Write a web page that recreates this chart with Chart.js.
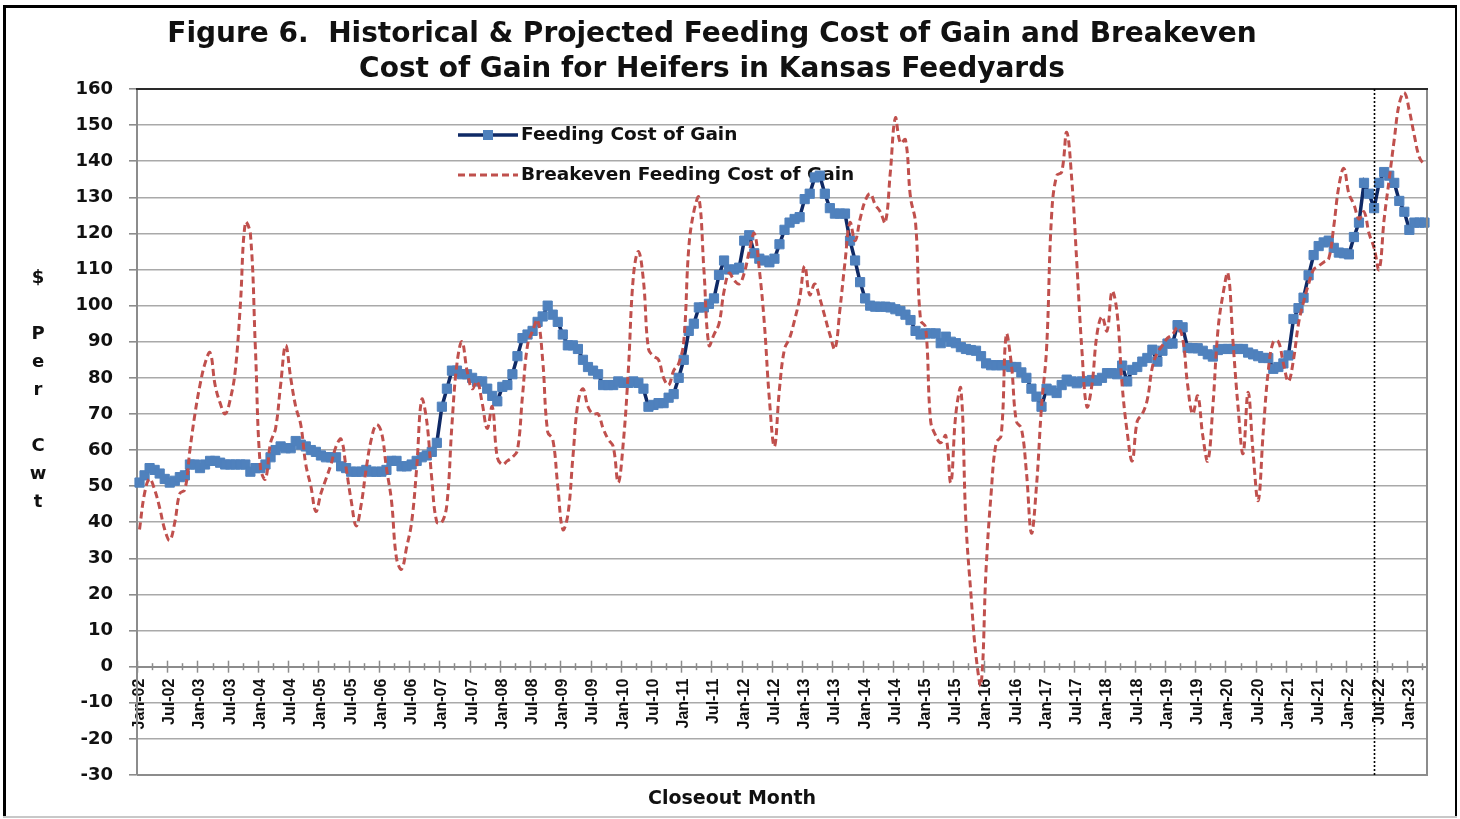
<!DOCTYPE html>
<html>
<head>
<meta charset="utf-8">
<script src="https://cdn.jsdelivr.net/npm/chart.js@4.4.0/dist/chart.umd.min.js"></script>
<style>
html, body { margin: 0; padding: 0; background: #fff; }
#wrap { position: relative; width: 1460px; height: 819px; }
</style>
</head>
<body>
<div id="wrap"><canvas id="chart" width="1460" height="819"></canvas></div>
<script>
// monthly closeouts, Jan-02 .. Apr-23
const firstYear = 2002;
const lastYear = 2023;
const lastMonth = 4;
const monthNames = ['Jan','Feb','Mar','Apr','May','Jun','Jul','Aug','Sep','Oct','Nov','Dec'];

const feedingCost = [
  51, 53, 55, 54.5, 53.5, 52, 51, 51.5, 52.5, 53, 56, 56,           // 2002
  55, 56, 57, 57, 56.5, 56, 56, 56, 56, 56, 54, 55,                 // 2003
  55, 56, 58, 60, 61, 60.5, 60.5, 62.5, 61.5, 61, 60, 59.5,         // 2004
  58.5, 58, 58, 58, 55.5, 55, 54, 54, 54, 54.5, 54, 54,             // 2005
  54, 54.5, 57, 57, 55.5, 55.5, 56, 57, 58, 58.5, 59.5, 62,         // 2006
  72, 77, 82, 82, 81, 81, 80, 79, 79, 77, 75, 73.5,                 // 2007
  77.5, 78, 81, 86, 91, 92, 93, 95.5, 97, 100, 97.5, 95.5,          // 2008
  92, 89, 89, 88, 85, 83, 82, 81, 78, 78, 78, 79,                   // 2009
  78.6, 78.6, 79, 78.6, 77, 72, 72.5, 73, 73, 74.5, 75.5, 80,       // 2010
  85, 93, 95, 99.5, 99.5, 100.5, 102, 108.5, 112.5, 110, 110, 110.5, // 2011
  118, 119.5, 114.5, 113, 112.5, 112, 113, 117, 121, 123, 124, 124.5, // 2012
  129.5, 131, 135.5, 136, 131, 127, 125.5, 125.5, 125.5, 118, 112.5, 106.5, // 2013
  102, 100, 99.7, 99.7, 99.7, 99.5, 99, 98.5, 97.5, 96, 93, 92,     // 2014
  92.3, 92.3, 92.3, 89.6, 91.4, 90, 89.6, 88.5, 88, 87.7, 87.5, 86, // 2015
  84, 83.5, 83.5, 83.5, 83.5, 83, 83, 81.5, 80, 77, 74.8, 72,       // 2016
  77, 76.5, 75.8, 78, 79.5, 79, 78.5, 79, 79, 79.4, 79.2, 80,       // 2017
  81.3, 81.3, 81, 83.4, 79, 82.2, 83, 84.5, 85.5, 87.8, 84.5, 87.5, // 2018
  89.5, 89.5, 94.6, 94, 88.3, 88.2, 88.2, 87.5, 86.5, 85.9, 87.7, 88, // 2019
  88, 88, 88, 88, 87, 86.5, 86, 85.5, 85.5, 82.5, 83, 84,           // 2020
  86.2, 96.3, 99.3, 102.2, 108.4, 114, 116.5, 117.5, 118, 116, 114.7, 114.5, // 2021
  114.2, 119, 123, 134, 131, 127, 134, 137, 136, 134, 129, 126,     // 2022
  121, 123, 123, 123                                                // 2023
];

const breakevenCost = [
  38, 48, 52, 49, 44, 38, 35, 40, 48, 49, 60, 70,          // 2002
  78, 84, 87, 78, 73, 70, 74, 82, 100, 123, 120, 88,       // 2003
  55, 52, 62, 66, 78, 89, 80, 72, 67, 56, 50, 43,          // 2004
  48, 52, 56, 61, 63, 55, 46, 39, 45, 55, 63, 67,          // 2005
  65, 55, 46, 30, 27, 33, 40, 55, 74, 68, 52, 40,          // 2006
  40, 45, 67, 84, 90, 82, 77, 79, 73, 66, 72, 58,          // 2007
  56, 57, 58, 60, 75, 89, 93, 96, 85, 65, 63, 50,          // 2008
  38, 42, 58, 73, 77, 72, 70, 70, 66, 63, 61, 51,          // 2009
  62, 82, 108, 115, 107, 88, 86, 85, 80, 78, 82, 84,       // 2010
  90, 116, 126, 130, 110, 89, 92, 95, 104, 109, 107, 106,  // 2011
  109, 115, 120, 110, 95, 74, 61, 77, 88, 91, 96, 102,     // 2012
  111, 103, 106, 102, 97, 92, 88, 99, 112, 123, 118, 124,  // 2013
  129, 131, 128, 126, 123, 137, 152, 145, 146, 130, 123, 96, // 2014
  94, 68, 64, 62, 64, 51, 70, 77, 40, 20, 3, -5,           // 2015
  27, 48, 62, 64, 92, 84, 68, 66, 54, 37, 50, 72,          // 2016
  88, 125, 136, 137, 148, 135, 112, 88, 72, 78, 92, 97,    // 2017
  93, 104, 98, 78, 65, 57, 68, 70, 74, 83, 87, 89,         // 2018
  91, 92, 94, 91, 78, 70, 75, 64, 57, 72, 93, 103,         // 2019
  109, 90, 72, 59, 76, 59, 46, 65, 82, 90, 90, 84,         // 2020
  79, 85, 95, 101, 106, 110, 111, 112, 113, 122, 133, 138, // 2021
  131, 128, 124, 126, 120, 116, 110, 124, 135, 146, 156, 159, // 2022
  154, 147, 141, 139                                       // 2023
];

const yTicks = { min: -30, max: 160, step: 10 };
const projectionStart = 'Jul-22';

const months = [];
for (let y = firstYear; y <= lastYear; y++) {
  const stop = (y === lastYear) ? lastMonth : 12;
  for (let m = 0; m < stop; m++) {
    months.push(monthNames[m] + '-' + String(y).slice(2));
  }
}

const BLUE_LINE = '#0f2a66';
const BLUE_MARK = '#4f81bd';
const RED = '#c0504d';
const GRID = '#a9a9a9';
const AXIS = '#8c8c8c';

const decor = {
  id: 'decor',
  beforeDraw(chart) {
    const ctx = chart.ctx;
    ctx.save();
    ctx.fillStyle = '#fff';
    ctx.fillRect(0, 0, chart.width, chart.height);
    ctx.restore();
  },
  beforeDatasetsDraw(chart) {
    // legend, sitting under the lines like the original
    const ctx = chart.ctx;
    ctx.save();
    const x0 = 458, x1 = 518;
    ctx.lineWidth = 3.5;
    ctx.strokeStyle = BLUE_LINE;
    ctx.beginPath(); ctx.moveTo(x0, 135); ctx.lineTo(x1, 135); ctx.stroke();
    ctx.fillStyle = BLUE_MARK;
    ctx.fillRect(483, 130, 10, 10);
    ctx.strokeStyle = RED;
    ctx.lineWidth = 3;
    ctx.setLineDash([7, 4]);
    ctx.beginPath(); ctx.moveTo(x0, 175); ctx.lineTo(x1, 175); ctx.stroke();
    ctx.setLineDash([]);
    ctx.fillStyle = '#111';
    ctx.font = 'bold 18.5px "DejaVu Sans"';
    ctx.textAlign = 'left';
    ctx.textBaseline = 'middle';
    ctx.fillText('Feeding Cost of Gain', 521, 135);
    ctx.fillText('Breakeven Feeding Cost of Gain', 521, 175);
    ctx.restore();
  },
  afterDraw(chart) {
    const ctx = chart.ctx;
    const {left, right, top, bottom} = chart.chartArea;
    const xs = chart.scales.x, ys = chart.scales.y;
    ctx.save();

    // tick marks across the zero line, every 3 months, long ones every 6
    const w = xs.getPixelForValue(1) - xs.getPixelForValue(0);
    const start = xs.getPixelForValue(0) - w / 2;
    const y0 = ys.getPixelForValue(0);
    ctx.strokeStyle = AXIS;
    ctx.lineWidth = 1.5;
    for (let k = 0; k <= months.length; k += 3) {
      const px = Math.round(start + k * w) + 0.5;
      const h = (k % 6 === 0) ? 6 : 3.5;
      ctx.beginPath(); ctx.moveTo(px, y0 - h); ctx.lineTo(px, y0 + h); ctx.stroke();
    }

    // plot frame
    ctx.lineWidth = 2;
    ctx.strokeStyle = AXIS;
    ctx.beginPath(); ctx.moveTo(left, bottom); ctx.lineTo(right, bottom); ctx.lineTo(right, top); ctx.stroke();
    ctx.strokeStyle = '#2a2a2a';
    ctx.beginPath(); ctx.moveTo(left - 1, top); ctx.lineTo(right + 1, top); ctx.stroke();

    // projection divider
    const iv = months.indexOf(projectionStart);
    const vx = Math.round((xs.getPixelForValue(iv - 1) + xs.getPixelForValue(iv)) / 2) - 2.5;
    ctx.strokeStyle = '#000';
    ctx.lineWidth = 1.6;
    ctx.setLineDash([2, 2]);
    ctx.beginPath(); ctx.moveTo(vx, top); ctx.lineTo(vx, bottom); ctx.stroke();
    ctx.setLineDash([]);

    // titles
    ctx.fillStyle = '#111';
    ctx.textAlign = 'center';
    ctx.textBaseline = 'middle';
    ctx.font = 'bold 28px "DejaVu Sans"';
    ctx.fillText('Figure 6.  Historical & Projected Feeding Cost of Gain and Breakeven', 712, 35);
    ctx.fillText('Cost of Gain for Heifers in Kansas Feedyards', 712, 70);

    ctx.font = 'bold 19px "DejaVu Sans"';
    ctx.fillText('Closeout Month', 732, 799);

    ctx.font = 'bold 18px "DejaVu Sans"';
    const yTitle = ['$', '', 'P', 'e', 'r', '', 'C', 'w', 't'];
    yTitle.forEach((ch, i) => { if (ch) ctx.fillText(ch, 38, 278 + i * 28.1); });

    // outer frame
    ctx.fillStyle = '#000';
    ctx.fillRect(3, 5, 3, 812);
    ctx.fillRect(3, 5, 1454, 3);
    ctx.fillRect(1455, 5, 2, 812);
    ctx.fillStyle = '#c8c8c8';
    ctx.fillRect(3, 816, 1454, 2);
    ctx.restore();
  }
};

new Chart(document.getElementById('chart'), {
  type: 'line',
  data: {
    labels: months,
    datasets: [
      {
        label: 'Feeding Cost of Gain',
        data: feedingCost,
        order: 2,
        borderColor: BLUE_LINE,
        borderWidth: 3.5,
        tension: 0,
        pointStyle: 'rect',
        pointRadius: 6.5,
        pointBackgroundColor: BLUE_MARK,
        pointBorderColor: BLUE_MARK,
        pointBorderWidth: 1
      },
      {
        label: 'Breakeven Feeding Cost of Gain',
        data: breakevenCost,
        order: 1,
        borderColor: RED,
        borderWidth: 3,
        borderDash: [7, 4],
        tension: 0.4,
        pointRadius: 0
      }
    ]
  },
  options: {
    responsive: false,
    animation: false,
    devicePixelRatio: 1,
    layout: { padding: { left: 0, right: 33, top: 89, bottom: 44 } },
    plugins: {
      legend: { display: false },
      title: { display: false },
      tooltip: { enabled: false }
    },
    scales: {
      x: {
        type: 'category',
        position: { y: 0 },
        offset: true,
        grid: { display: false, drawTicks: false },
        border: { display: true, color: AXIS, width: 2 },
        ticks: {
          autoSkip: false,
          minRotation: 90,
          maxRotation: 90,
          padding: 12,
          color: '#111',
          font: { family: '"Liberation Sans", Arial', size: 16, weight: 'bold' },
          callback(val, idx) { return idx % 6 === 0 ? months[idx] : ''; }
        },
        afterFit(scale) {
          scale.height = 0;
          scale.paddingLeft = 0;
          scale.paddingRight = 0;
        }
      },
      y: {
        min: yTicks.min,
        max: yTicks.max,
        grid: { color: GRID, lineWidth: 1.6, tickLength: 8, tickColor: AXIS },
        border: { display: true, color: AXIS, width: 2 },
        ticks: {
          stepSize: yTicks.step,
          padding: 16,
          color: '#111',
          font: { family: '"DejaVu Sans"', size: 18, weight: 'bold' }
        },
        afterFit(scale) { scale.width = 137; }
      }
    }
  },
  plugins: [decor]
});
</script>
</body>
</html>
